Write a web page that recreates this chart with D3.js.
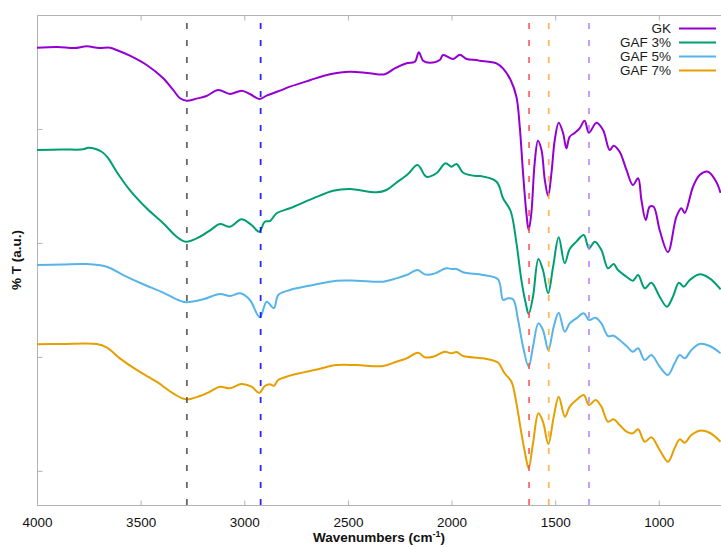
<!DOCTYPE html>
<html>
<head>
<meta charset="utf-8">
<script src="https://cdn.jsdelivr.net/npm/d3@7"></script>
<style>
  html, body { margin: 0; padding: 0; background: #fff; }
  svg { display: block; font-family: "Liberation Sans", Arial, Helvetica, sans-serif; }
</style>
</head>
<body>
<div id="chart"></div>
<script>
// spectra: [wavenumber (cm-1), %T offset units]
const gk = [
  [4000, 37.13], [3900, 37.2], [3820, 37.1], [3760, 37.25], [3700, 37.1], [3648, 37.13],
  [3616, 36.93], [3552, 36.43], [3471, 35.61], [3391, 34.45], [3343, 33.42], [3310, 32.69],
  [3278, 32.48], [3230, 32.66], [3182, 32.89], [3126, 33.42], [3069, 33.07], [3013, 33.36],
  [2973, 33.07], [2928, 32.63], [2892, 32.92], [2828, 33.36], [2780, 33.71], [2684, 34.27],
  [2587, 34.80], [2491, 35.03], [2394, 34.88], [2322, 34.80], [2274, 35.32], [2217, 35.76],
  [2177, 35.90], [2158, 36.73], [2137, 35.99], [2105, 35.81], [2057, 36.05], [2041, 36.49],
  [1992, 36.14], [1960, 36.52], [1928, 36.14], [1880, 36.05], [1864, 35.99], [1783, 35.76],
  [1751, 35.3], [1715, 34.3], [1687, 32.83], [1671, 30.20], [1655, 26.13], [1639, 22.62],
  [1628, 21.13], [1615, 22.62], [1599, 27.01], [1583, 28.97], [1566, 28.15], [1550, 25.52],
  [1534, 24.12], [1518, 26.13], [1502, 29.03], [1483, 30.55], [1462, 29.65], [1446, 28.30],
  [1430, 29.32], [1406, 29.65], [1382, 30.06], [1358, 30.72], [1337, 29.67], [1301, 30.55],
  [1269, 29.91], [1237, 28.15], [1218, 28.53], [1189, 28.00], [1156, 26.40], [1125, 25.08],
  [1100, 25.67], [1084, 23.77], [1063, 22.01], [1044, 23.18], [1025, 23.18], [996, 21.13],
  [956, 19.20], [915, 22.30], [891, 23.04], [875, 22.62], [835, 24.93], [803, 25.96],
  [763, 26.25], [723, 25.37], [702, 24.38]
];
const gaf3 = [
  [4000, 28.15], [3880, 28.2], [3777, 28.21], [3753, 28.35], [3688, 28.00], [3656, 27.42],
  [3616, 26.25], [3552, 24.64], [3471, 23.04], [3391, 21.72], [3326, 20.54], [3282, 20.11],
  [3214, 20.54], [3158, 21.19], [3118, 21.66], [3069, 21.42], [3013, 22.07], [2965, 21.57],
  [2928, 20.98], [2901, 21.86], [2876, 21.92], [2844, 22.60], [2780, 23.04], [2668, 23.91],
  [2571, 24.58], [2491, 24.73], [2362, 24.44], [2314, 24.64], [2266, 25.28], [2210, 26.05],
  [2164, 26.84], [2121, 25.81], [2073, 26.11], [2029, 26.99], [2000, 26.69], [1976, 26.92],
  [1944, 26.16], [1880, 25.87], [1864, 25.87], [1783, 25.37], [1751, 23.9], [1715, 22.8],
  [1687, 20.0], [1663, 16.74], [1642, 14.70], [1628, 13.76], [1607, 15.28], [1581, 18.59],
  [1559, 17.62], [1534, 15.58], [1510, 17.91], [1483, 20.49], [1454, 18.21], [1430, 19.47],
  [1398, 20.11], [1362, 20.69], [1337, 19.53], [1309, 20.11], [1277, 19.38], [1245, 17.77],
  [1218, 18.15], [1197, 17.62], [1156, 17.03], [1125, 16.68], [1100, 17.18], [1068, 16.02],
  [1036, 16.51], [996, 15.28], [961, 14.40], [932, 15.28], [903, 16.51], [880, 16.16],
  [851, 16.74], [803, 17.24], [755, 16.89], [702, 15.93]
];
const gaf5 = [
  [4000, 18.06], [3880, 18.1], [3760, 18.15], [3664, 17.91], [3584, 17.18], [3487, 16.37],
  [3391, 15.63], [3319, 14.99], [3282, 14.79], [3198, 15.05], [3118, 15.52], [3069, 15.34],
  [3018, 15.58], [2973, 14.99], [2925, 13.47], [2892, 14.84], [2857, 14.28], [2836, 15.43],
  [2780, 15.87], [2668, 16.31], [2555, 16.68], [2458, 16.68], [2330, 16.60], [2266, 16.89],
  [2217, 17.18], [2164, 17.62], [2129, 17.24], [2089, 17.27], [2025, 17.77], [2000, 17.71],
  [1976, 17.71], [1944, 17.42], [1848, 17.18], [1776, 16.81], [1751, 15.0], [1727, 15.14],
  [1703, 15.05], [1679, 13.23], [1655, 10.89], [1628, 9.14], [1607, 10.89], [1581, 12.94],
  [1559, 12.36], [1533, 10.60], [1507, 12.65], [1483, 13.87], [1454, 12.21], [1430, 12.94],
  [1398, 13.38], [1362, 13.82], [1337, 13.23], [1305, 13.44], [1277, 12.94], [1245, 11.83],
  [1218, 11.86], [1189, 11.48], [1156, 10.95], [1125, 10.45], [1100, 10.75], [1068, 9.72],
  [1036, 10.16], [996, 9.14], [956, 8.41], [924, 9.43], [899, 10.16], [875, 9.87],
  [843, 10.60], [803, 11.13], [755, 10.95], [702, 10.31]
];
const gaf7 = [
  [4000, 11.10], [3880, 11.13], [3712, 11.13], [3664, 10.84], [3600, 9.87], [3519, 8.85],
  [3423, 7.82], [3343, 6.80], [3282, 6.27], [3214, 6.56], [3166, 6.94], [3118, 7.38],
  [3069, 7.24], [3013, 7.62], [2965, 7.38], [2928, 6.85], [2901, 7.44], [2876, 7.59],
  [2857, 7.47], [2836, 7.97], [2780, 8.35], [2644, 8.91], [2555, 9.28], [2458, 9.28],
  [2330, 9.20], [2266, 9.57], [2217, 9.87], [2161, 10.36], [2129, 9.96], [2089, 10.01],
  [2033, 10.45], [2000, 10.31], [1976, 10.43], [1944, 10.07], [1848, 9.87], [1776, 9.5],
  [1745, 8.58], [1711, 7.82], [1687, 5.92], [1663, 3.29], [1642, 1.24], [1628, 0.22],
  [1607, 2.41], [1581, 5.05], [1559, 4.31], [1533, 2.35], [1507, 4.75], [1483, 6.50],
  [1453, 4.75], [1430, 5.63], [1398, 6.21], [1362, 6.65], [1337, 5.77], [1305, 6.21],
  [1277, 5.63], [1245, 4.31], [1218, 4.52], [1189, 4.02], [1156, 3.43], [1125, 3.29],
  [1100, 3.64], [1068, 2.55], [1036, 2.94], [996, 1.83], [956, 0.80], [924, 1.97],
  [899, 2.76], [875, 2.47], [843, 3.14], [803, 3.52], [755, 3.34], [702, 2.55]
];

const seriesNames = ["GK", "GAF 3%", "GAF 5%", "GAF 7%"]
const seriesColors = ["#9400d3", "#009e73", "#56b4e9", "#e69f00"]
const seriesData = [gk, gaf3, gaf5, gaf7]

// marker lines (cm-1)
const markers = [3277, 2921, 1626, 1531, 1337]
const markerColors = ["#4d4d4d", "#0000ff", "#ff4d4d", "#ffad33", "#b580ff"]

const xTicks = [4000, 3500, 3000, 2500, 2000, 1500, 1000]
const yTicks = [0, 10, 20, 30]

const width = 721
const height = 547
const margin = {top: 15, right: 0, bottom: 42, left: 37}

const svg = d3.select("#chart").append("svg")
    .attr("width", width)
    .attr("height", height)

const x = d3.scaleLinear()
    .domain([4000, 700])
    .range([margin.left, width - margin.right])

const y = d3.scaleLinear()
    .domain([-3, 40])
    .range([height - margin.bottom, margin.top])

const frame = "#b3b3b3"
const x0 = x.range()[0], x1 = x.range()[1]
const yb = y.range()[0], yt = y.range()[1]

// frame (left, bottom, top)
svg.append("path")
    .attr("fill", "none")
    .attr("stroke", frame)
    .attr("stroke-width", 1)
    .attr("d", `M${x1},${yt + 0.5}H${x0 + 0.5}V${yb + 0.5}H${x1}`)

// x axis with inward ticks
svg.append("g")
    .attr("transform", `translate(0,${yb + 0.5})`)
    .call(d3.axisBottom(x).tickValues(xTicks).tickSize(-5).tickPadding(12).tickFormat(d3.format("d")))
    .call(g => g.select(".domain").remove())
    .call(g => g.selectAll(".tick line").attr("stroke", frame))
    .call(g => g.selectAll(".tick text")
        .attr("fill", "#111").attr("font-size", 13.5)
        .attr("font-family", "Liberation Sans, Arial, sans-serif"))

// mirrored ticks on top
svg.append("g")
    .attr("transform", `translate(0,${yt + 0.5})`)
    .call(d3.axisTop(x).tickValues(xTicks).tickSize(-5).tickFormat(""))
    .call(g => g.select(".domain").remove())
    .call(g => g.selectAll(".tick line").attr("stroke", frame))

// y axis, ticks only
svg.append("g")
    .attr("transform", `translate(${x0 + 0.5},0)`)
    .call(d3.axisLeft(y).tickValues(yTicks).tickSize(-5).tickFormat(""))
    .call(g => g.select(".domain").remove())
    .call(g => g.selectAll(".tick line").attr("stroke", frame))

const line = d3.line()
    .curve(d3.curveCatmullRom.alpha(0.5))
    .x(d => x(d[0]))
    .y(d => y(d[1]))

svg.append("g")
    .selectAll("path")
    .data(seriesData)
    .join("path")
      .attr("fill", "none")
      .attr("stroke", (d, i) => seriesColors[i])
      .attr("stroke-width", 2)
      .attr("stroke-linejoin", "round")
      .attr("d", line)

// dashed marker lines, drawn from the bottom up
svg.append("g")
    .selectAll("line")
    .data(markers)
    .join("line")
      .attr("x1", d => x(d))
      .attr("x2", d => x(d))
      .attr("y1", yb)
      .attr("y2", yt + 4)
      .attr("stroke", (d, i) => markerColors[i])
      .attr("stroke-opacity", 0.85)
      .attr("stroke-width", 1.8)
      .attr("stroke-dasharray", "6,11")

// legend
const legend = svg.append("g")
    .attr("font-size", 13.5)
    .selectAll("g")
    .data(seriesNames)
    .join("g")
      .attr("transform", (d, i) => `translate(0,${28.5 + i * 14})`)

legend.append("text")
    .attr("x", 671)
    .attr("dy", "0.35em")
    .attr("text-anchor", "end")
    .attr("fill", "#1a1a1a")
    .text(d => d)

legend.append("line")
    .attr("x1", 679)
    .attr("x2", 716)
    .attr("stroke", (d, i) => seriesColors[i])
    .attr("stroke-width", 2)

// axis titles
const xt = svg.append("text")
    .attr("x", (x0 + x1) / 2)
    .attr("y", 542)
    .attr("text-anchor", "middle")
    .attr("font-weight", "bold")
    .attr("font-size", 13.5)
    .attr("fill", "#111")
xt.append("tspan").text("Wavenumbers (cm")
xt.append("tspan").attr("baseline-shift", "super").attr("font-size", 9).text("-1")
xt.append("tspan").text(")")

svg.append("text")
    .attr("transform", `translate(21,${(yt + yb) / 2}) rotate(-90)`)
    .attr("text-anchor", "middle")
    .attr("font-weight", "bold")
    .attr("font-size", 13.5)
    .attr("fill", "#111")
    .text("% T (a.u.)")
</script>
</body>
</html>
